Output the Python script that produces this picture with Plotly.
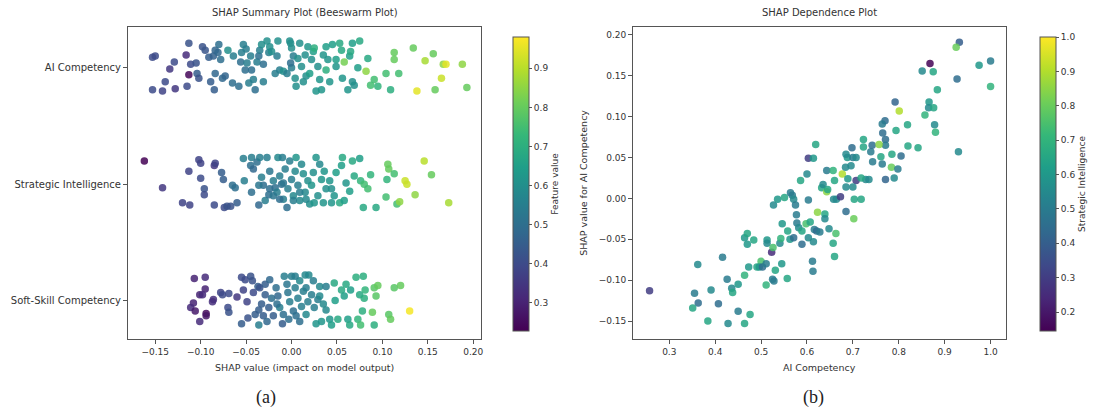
import plotly.graph_objects as go

# ---------------- data: beeswarm (panel a) ----------------
features = ["AI Competency", "Strategic Intelligence", "Soft-Skill Competency"]

ai_shap = [-0.153, -0.150, -0.153, -0.142, -0.139, -0.128, -0.134, -0.129, -0.116, -0.113, -0.115, -0.113,
           -0.111, -0.105, -0.104, -0.102, -0.098, -0.095, -0.091, -0.089, -0.086, -0.085, -0.084, -0.084,
           -0.080, -0.081, -0.078, -0.076, -0.073, -0.070, -0.065, -0.064, -0.058, -0.056, -0.055, -0.053,
           -0.051, -0.050, -0.049, -0.047, -0.045, -0.044, -0.042, -0.040, -0.038, -0.036, -0.035, -0.033,
           -0.031, -0.031, -0.027, -0.025, -0.024, -0.022, -0.018, -0.016, -0.015, -0.013, -0.009, -0.005,
           -0.002, -0.001, 0.000, 0.000, -0.001, 0.002, 0.004, 0.005, 0.007, 0.009, 0.011, 0.013,
           0.015, 0.016, 0.018, 0.020, 0.022, 0.024, 0.025, 0.027, 0.029, 0.031, 0.033, 0.035,
           0.038, 0.038, 0.040, 0.042, 0.045, 0.049, 0.049, 0.053, 0.055, 0.056, 0.058, 0.062,
           0.064, 0.065, 0.067, 0.067, 0.069, 0.073, 0.075, 0.082, 0.084, 0.087, 0.091, 0.095,
           0.104, 0.109, 0.113, 0.113, 0.118, 0.134, 0.138, 0.147, 0.156, 0.158, 0.165, 0.167,
           0.170, 0.188, 0.193]
ai_jitter = [0.09, 0.10, -0.19, -0.20, -0.12, -0.18, -0.01, 0.05, 0.11, -0.06, -0.16, 0.21,
             0.03, 0.04, -0.05, -0.09, 0.18, 0.15, 0.09, -0.12, 0.10, -0.19, -0.05, 0.15,
             0.20, 0.13, 0.07, -0.09, -0.07, 0.15, -0.13, 0.10, -0.16, 0.05, 0.13, 0.20,
             -0.02, 0.16, 0.04, -0.13, 0.10, -0.02, -0.10, -0.19, 0.05, 0.10, 0.15, 0.20,
             -0.12, 0.03, 0.23, 0.13, 0.18, 0.14, -0.05, 0.10, 0.23, -0.02, -0.03, -0.05,
             0.23, 0.21, 0.17, 0.00, 0.04, 0.10, -0.09, -0.16, 0.08, 0.21, 0.01, -0.12,
             0.11, -0.07, 0.18, -0.05, 0.07, 0.14, 0.17, -0.20, 0.01, -0.10, -0.19, 0.11,
             0.18, -0.02, 0.07, -0.12, 0.20, 0.07, 0.01, 0.21, 0.15, -0.09, 0.05, -0.19,
             0.10, 0.14, 0.21, -0.12, -0.15, 0.00, 0.23, -0.03, 0.08, -0.15, -0.10, -0.16,
             -0.05, -0.19, 0.13, 0.07, -0.05, 0.17, -0.20, 0.06, 0.12, -0.19, -0.09, 0.03,
             0.03, 0.03, -0.17]
ai_value = [0.40, 0.40, 0.40, 0.38, 0.40, 0.35, 0.35, 0.40, 0.32, 0.24, 0.40, 0.42,
            0.40, 0.42, 0.45, 0.42, 0.42, 0.43, 0.45, 0.45, 0.46, 0.45, 0.48, 0.47,
            0.50, 0.48, 0.50, 0.48, 0.47, 0.60, 0.50, 0.55, 0.50, 0.50, 0.55, 0.55,
            0.50, 0.55, 0.55, 0.55, 0.55, 0.50, 0.55, 0.50, 0.55, 0.50, 0.55, 0.60,
            0.55, 0.50, 0.60, 0.55, 0.60, 0.60, 0.55, 0.55, 0.60, 0.55, 0.60, 0.55,
            0.60, 0.60, 0.60, 0.55, 0.50, 0.55, 0.60, 0.60, 0.60, 0.60, 0.60, 0.60,
            0.60, 0.60, 0.62, 0.65, 0.60, 0.65, 0.70, 0.62, 0.60, 0.62, 0.62, 0.62,
            0.65, 0.70, 0.62, 0.62, 0.65, 0.65, 0.62, 0.68, 0.68, 0.62, 0.82, 0.62,
            0.65, 0.68, 0.65, 0.60, 0.60, 0.65, 0.68, 0.85, 0.68, 0.75, 0.75, 0.72,
            0.75, 0.70, 0.80, 0.80, 0.75, 0.80, 0.95, 0.88, 0.80, 0.80, 0.92, 0.85,
            0.95, 0.85, 0.80]

si_shap = [-0.162, -0.142, -0.120, -0.112, -0.113, -0.102, -0.100, -0.100, -0.096, -0.096, -0.085, -0.084,
           -0.085, -0.077, -0.075, -0.074, -0.071, -0.067, -0.065, -0.062, -0.060, -0.053, -0.052, -0.045,
           -0.044, -0.044, -0.042, -0.038, -0.036, -0.035, -0.033, -0.031, -0.029, -0.027, -0.025, -0.024,
           -0.020, -0.018, -0.016, -0.015, -0.013, -0.011, -0.010, -0.009, -0.007, -0.005, -0.004, -0.002,
           0.000, 0.002, 0.004, 0.005, 0.007, 0.009, 0.011, 0.013, 0.015, 0.018, 0.020, 0.022,
           0.024, 0.027, 0.029, 0.031, 0.033, 0.035, 0.036, 0.038, 0.042, 0.044, 0.047, 0.049,
           0.053, 0.055, 0.056, 0.058, 0.060, 0.064, 0.067, 0.069, 0.075, 0.076, 0.079, 0.080,
           0.084, 0.087, 0.093, 0.104, 0.105, 0.106, 0.107, 0.113, 0.116, 0.119, 0.125, 0.127,
           0.136, 0.146, 0.154, 0.173, -0.020, -0.013, 0.002, 0.009, 0.016, -0.009, -0.024, -0.036,
           0.044, 0.025]
si_jitter = [0.20, -0.03, -0.16, -0.18, 0.11, 0.21, 0.18, 0.05, -0.04, -0.09, 0.16, 0.18,
             -0.18, 0.10, 0.04, -0.20, -0.19, -0.19, -0.01, -0.03, -0.16, 0.22, 0.03, 0.16,
             0.23, -0.07, 0.13, 0.19, -0.18, 0.23, 0.06, -0.01, -0.14, 0.23, -0.09, 0.11,
             0.03, -0.03, -0.07, 0.23, 0.07, 0.00, 0.23, -0.13, 0.13, -0.20, -0.04, 0.20,
             0.04, -0.10, 0.11, 0.23, -0.01, -0.14, 0.17, 0.09, -0.07, 0.03, -0.17, -0.01,
             0.10, 0.23, -0.10, 0.17, 0.04, -0.16, 0.11, -0.04, 0.03, -0.16, -0.10, 0.10,
             -0.16, 0.16, 0.23, -0.14, 0.01, -0.06, 0.20, 0.07, 0.22, 0.03, -0.20, 0.00,
             -0.04, 0.08, -0.20, -0.11, 0.04, 0.17, 0.13, 0.09, -0.17, -0.15, 0.03, 0.00,
             -0.09, 0.20, 0.08, -0.16, -0.10, -0.13, -0.14, -0.07, -0.13, 0.01, -0.04, -0.01,
             -0.04, -0.16]
si_value = [0.23, 0.35, 0.38, 0.38, 0.38, 0.38, 0.38, 0.40, 0.42, 0.40, 0.35, 0.38,
            0.40, 0.45, 0.45, 0.40, 0.42, 0.42, 0.50, 0.50, 0.45, 0.55, 0.55, 0.50,
            0.55, 0.50, 0.48, 0.50, 0.48, 0.55, 0.55, 0.50, 0.55, 0.55, 0.50, 0.52,
            0.55, 0.50, 0.55, 0.58, 0.55, 0.50, 0.55, 0.55, 0.55, 0.50, 0.55, 0.55,
            0.55, 0.58, 0.58, 0.62, 0.55, 0.58, 0.58, 0.60, 0.58, 0.60, 0.60, 0.62,
            0.60, 0.62, 0.60, 0.58, 0.62, 0.62, 0.62, 0.60, 0.62, 0.62, 0.62, 0.65,
            0.68, 0.65, 0.68, 0.65, 0.62, 0.65, 0.68, 0.68, 0.65, 0.72, 0.68, 0.75,
            0.75, 0.72, 0.68, 0.75, 0.72, 0.80, 0.80, 0.75, 0.75, 0.85, 0.92, 0.92,
            0.85, 0.90, 0.80, 0.88, 0.52, 0.50, 0.55, 0.55, 0.58, 0.52, 0.50, 0.52,
            0.60, 0.62]

ss_shap = [-0.107, -0.095, -0.095, -0.101, -0.098, -0.108, -0.111, -0.106, -0.094, -0.094, -0.101, -0.087,
           -0.086, -0.078, -0.076, -0.069, -0.070, -0.069, -0.060, -0.055, -0.053, -0.051, -0.049, -0.048,
           -0.055, -0.045, -0.043, -0.042, -0.040, -0.037, -0.036, -0.035, -0.033, -0.031, -0.029, -0.027,
           -0.025, -0.024, -0.022, -0.020, -0.017, -0.015, -0.013, -0.010, -0.008, -0.005, -0.004, -0.003,
           -0.002, 0.000, 0.002, 0.004, 0.005, 0.007, 0.009, 0.011, 0.013, 0.015, 0.016, 0.018,
           0.019, 0.022, 0.024, 0.025, 0.027, 0.029, 0.031, 0.033, 0.035, 0.038, 0.038, 0.042,
           0.044, 0.047, 0.048, 0.051, 0.055, 0.058, 0.060, 0.062, 0.064, 0.065, 0.071, 0.073,
           0.075, 0.076, 0.079, 0.078, 0.080, 0.081, 0.091, 0.089, 0.091, 0.093, 0.095, 0.107,
           0.109, 0.113, 0.120, 0.130, -0.036, -0.016, -0.009, 0.009, 0.016, 0.004, -0.029, 0.031]
ss_jitter = [0.19, 0.20, 0.10, 0.05, 0.05, -0.02, -0.06, -0.09, -0.11, -0.13, -0.18, -0.01,
             0.01, 0.07, 0.05, 0.06, -0.06, -0.10, 0.03, 0.20, 0.09, 0.18, -0.01, -0.15,
             -0.20, 0.21, 0.17, 0.07, -0.12, 0.12, -0.21, 0.11, -0.03, -0.13, 0.14, -0.18,
             -0.06, 0.18, 0.02, -0.13, 0.11, 0.04, -0.06, -0.20, 0.21, 0.14, 0.07, -0.16,
             -0.01, 0.21, -0.09, 0.11, -0.13, 0.02, 0.17, -0.05, 0.08, 0.22, -0.12, -0.01,
             0.22, 0.05, 0.17, -0.06, -0.20, 0.01, 0.12, -0.18, -0.03, 0.12, -0.08, -0.16,
             -0.21, 0.15, 0.00, -0.16, 0.09, 0.04, 0.14, -0.16, -0.21, 0.09, 0.20, -0.16,
             0.05, -0.21, 0.21, -0.09, 0.02, 0.09, -0.21, -0.10, 0.11, 0.04, 0.13, -0.12,
             -0.16, 0.11, 0.13, -0.09, -0.08, -0.03, -0.12, -0.18, 0.11, 0.21, 0.05, 0.04]
ss_value = [0.30, 0.32, 0.30, 0.30, 0.32, 0.30, 0.32, 0.28, 0.25, 0.27, 0.32, 0.33,
            0.33, 0.38, 0.40, 0.40, 0.40, 0.42, 0.35, 0.40, 0.38, 0.40, 0.38, 0.42,
            0.45, 0.42, 0.42, 0.40, 0.45, 0.45, 0.55, 0.42, 0.45, 0.45, 0.45, 0.48,
            0.45, 0.48, 0.50, 0.45, 0.50, 0.48, 0.55, 0.45, 0.55, 0.52, 0.52, 0.50,
            0.55, 0.55, 0.50, 0.55, 0.50, 0.55, 0.58, 0.55, 0.55, 0.58, 0.58, 0.55,
            0.58, 0.55, 0.55, 0.55, 0.62, 0.55, 0.58, 0.62, 0.58, 0.55, 0.58, 0.62,
            0.65, 0.68, 0.65, 0.68, 0.68, 0.65, 0.68, 0.65, 0.68, 0.65, 0.70, 0.72,
            0.68, 0.75, 0.70, 0.70, 0.70, 0.72, 0.70, 0.80, 0.78, 0.78, 0.80, 0.78,
            0.80, 0.78, 0.80, 0.97, 0.45, 0.50, 0.50, 0.50, 0.55, 0.55, 0.45, 0.58]

# ---------------- data: dependence (panel b) ----------------
dep_ai = [0.257, 0.362, 0.416, 0.355, 0.363, 0.351, 0.391, 0.407, 0.384, 0.426, 0.436, 0.438,
          0.450, 0.450, 0.428, 0.464, 0.476, 0.464, 0.473, 0.464, 0.470, 0.470, 0.484, 0.491,
          0.500, 0.496, 0.503, 0.511, 0.511, 0.513, 0.513, 0.523, 0.526, 0.527, 0.525, 0.528,
          0.531, 0.536, 0.541, 0.543, 0.545, 0.546, 0.551, 0.557, 0.558, 0.563, 0.564, 0.568,
          0.571, 0.575, 0.577, 0.578, 0.582, 0.571, 0.589, 0.586, 0.589, 0.598, 0.600, 0.603,
          0.603, 0.607, 0.612, 0.613, 0.614, 0.616, 0.621, 0.628, 0.623, 0.632, 0.635, 0.639,
          0.639, 0.643, 0.645, 0.648, 0.657, 0.660, 0.663, 0.658, 0.664, 0.673, 0.685, 0.702,
          0.703, 0.718, 0.677, 0.689, 0.707, 0.728, 0.735, 0.660, 0.685, 0.700, 0.718,
          0.619, 0.603, 0.614, 0.643, 0.657, 0.684, 0.688, 0.685, 0.698, 0.700, 0.707, 0.696,
          0.723, 0.723, 0.739, 0.742, 0.743,
          0.792, 0.801, 0.770, 0.764, 0.765, 0.771, 0.771, 0.794, 0.819, 0.820, 0.757, 0.761,
          0.785, 0.805, 0.764, 0.784, 0.798, 0.771, 0.790,
          0.932, 0.925, 0.868, 0.851, 0.875, 1.000, 0.975, 0.927, 1.000, 0.884, 0.866, 0.865,
          0.876, 0.857, 0.878, 0.880, 0.842, 0.930]
dep_shap = [-0.113, -0.081, -0.072, -0.116, -0.128, -0.134, -0.112, -0.129, -0.150, -0.099, -0.110, -0.115,
            -0.105, -0.138, -0.153, -0.153, -0.142, -0.094, -0.084, -0.048, -0.043, -0.056, -0.051, -0.084,
            -0.077, -0.084, -0.084, -0.080, -0.106, -0.051, -0.055, -0.066, -0.060, -0.008, -0.099, -0.101,
            -0.088, -0.001, -0.055, -0.049, -0.080, -0.031, 0.001, -0.098, -0.040, -0.050, 0.007, 0.004,
            -0.001, -0.008, -0.020, -0.030, -0.036, -0.048, -0.040, 0.022, -0.056, -0.031, 0.030, -0.002,
            -0.048, -0.029, -0.077, -0.089, -0.053, -0.038, -0.040, -0.041, -0.017, 0.013, 0.017, -0.019,
            -0.025, 0.008, 0.011, -0.037, -0.055, -0.071, -0.043, -0.001, -0.001, 0.002, -0.016, -0.025,
            -0.001, -0.001, 0.030, 0.024, 0.022, 0.023, 0.023, 0.022, 0.014, 0.014, 0.025,
            0.066, 0.049, 0.049, 0.034, 0.034, 0.038, 0.050, 0.054, 0.062, 0.050, 0.050, 0.040,
            0.072, 0.063, 0.057, 0.065, 0.045,
            0.118, 0.107, 0.095, 0.091, 0.080, 0.072, 0.065, 0.083, 0.090, 0.064, 0.066, 0.051,
            0.054, 0.052, 0.042, 0.038, 0.036, 0.023, 0.025,
            0.191, 0.185, 0.165, 0.156, 0.155, 0.168, 0.163, 0.146, 0.137, 0.133, 0.118, 0.111,
            0.111, 0.102, 0.090, 0.081, 0.062, 0.057]
dep_si = [0.30, 0.55, 0.50, 0.50, 0.45, 0.65, 0.55, 0.45, 0.65, 0.50, 0.55, 0.65,
          0.60, 0.50, 0.55, 0.65, 0.65, 0.70, 0.60, 0.60, 0.65, 0.60, 0.65, 0.65,
          0.75, 0.60, 0.45, 0.50, 0.70, 0.60, 0.55, 0.25, 0.75, 0.55, 0.50, 0.50,
          0.65, 0.60, 0.55, 0.70, 0.60, 0.60, 0.65, 0.65, 0.65, 0.60, 0.50, 0.50,
          0.55, 0.50, 0.50, 0.50, 0.55, 0.45, 0.65, 0.65, 0.45, 0.75, 0.55, 0.50,
          0.55, 0.65, 0.50, 0.50, 0.55, 0.50, 0.45, 0.50, 0.85, 0.65, 0.55, 0.65,
          0.55, 0.85, 0.65, 0.55, 0.65, 0.65, 0.75, 0.55, 0.55, 0.30, 0.45, 0.80,
          0.65, 0.65, 0.90, 0.60, 0.30, 0.55, 0.55, 0.65, 0.55, 0.55, 0.65,
          0.65, 0.30, 0.60, 0.50, 0.70, 0.55, 0.60, 0.55, 0.45, 0.50, 0.55, 0.55,
          0.65, 0.65, 0.50, 0.45, 0.50,
          0.42, 0.90, 0.45, 0.50, 0.45, 0.45, 0.50, 0.65, 0.65, 0.65, 0.85, 0.65,
          0.65, 0.45, 0.50, 0.80, 0.50, 0.42, 0.55,
          0.40, 0.80, 0.15, 0.55, 0.65, 0.50, 0.60, 0.45, 0.70, 0.65, 0.60, 0.55,
          0.65, 0.70, 0.55, 0.70, 0.65, 0.55]

# ---------------- tick labels ----------------
a_xticks = [-0.15, -0.10, -0.05, 0.00, 0.05, 0.10, 0.15, 0.20]
a_xticktext = ["\u22120.15", "\u22120.10", "\u22120.05", "0.00", "0.05", "0.10", "0.15", "0.20"]
b_xticks = [0.3, 0.4, 0.5, 0.6, 0.7, 0.8, 0.9, 1.0]
b_xticktext = ["0.3", "0.4", "0.5", "0.6", "0.7", "0.8", "0.9", "1.0"]
b_yticks = [-0.15, -0.10, -0.05, 0.00, 0.05, 0.10, 0.15, 0.20]
b_yticktext = ["\u22120.15", "\u22120.10", "\u22120.05", "0.00", "0.05", "0.10", "0.15", "0.20"]
cb_a_ticks = [0.3, 0.4, 0.5, 0.6, 0.7, 0.8, 0.9]
cb_b_ticks = [0.2, 0.3, 0.4, 0.5, 0.6, 0.7, 0.8, 0.9, 1.0]

# ---------------- figure ----------------
W, H = 1098, 410
FONT = "DejaVu Sans"
TXT = "#333333"
LINE = "#555555"

def px_x(p):
    return p / W

def px_y(p):
    return 1 - p / H

fig = go.Figure()

rows = [(ai_shap, ai_jitter, ai_value), (si_shap, si_jitter, si_value), (ss_shap, ss_jitter, ss_value)]
n = len(features)
for i, (sv, jit, fv) in enumerate(rows):
    base = n - 1 - i
    fig.add_trace(go.Scatter(
        x=sv, y=[base + j for j in jit], mode="markers",
        marker=dict(color=fv, coloraxis="coloraxis", size=7.5, opacity=0.85, line=dict(width=0)),
        xaxis="x", yaxis="y", showlegend=False, hoverinfo="skip"))

fig.add_trace(go.Scatter(
    x=dep_ai, y=dep_shap, mode="markers",
    marker=dict(color=dep_si, coloraxis="coloraxis2", size=7.5, opacity=0.85, line=dict(width=0)),
    xaxis="x2", yaxis="y2", showlegend=False, hoverinfo="skip"))

ydom = [px_y(339), px_y(27)]
axis_common = dict(showline=True, linecolor=LINE, linewidth=1, mirror=True, ticks="outside",
                   ticklen=4, tickcolor=LINE, showgrid=False, zeroline=False,
                   tickfont=dict(family=FONT, size=9, color=TXT))

def colorbar(x0, ticks, title):
    return dict(
        x=px_x(x0), xanchor="left", thickness=16, thicknessmode="pixels",
        len=(341 - 27) / H, lenmode="fraction", y=px_y(341), yanchor="bottom",
        outlinewidth=1, outlinecolor=LINE, ticks="outside", ticklen=3, tickcolor=LINE,
        tickvals=ticks, tickformat=".1f", tickfont=dict(family=FONT, size=9, color=TXT),
        title=dict(text=title, side="right", font=dict(family=FONT, size=9, color=TXT)))

fig.update_layout(
    width=W, height=H, margin=dict(l=0, r=0, t=0, b=0),
    paper_bgcolor="white", plot_bgcolor="white",
    xaxis=dict(domain=[px_x(130), px_x(489)], range=[-0.180, 0.209], tickvals=a_xticks,
               ticktext=a_xticktext, anchor="y", **axis_common),
    yaxis=dict(domain=ydom, range=[-0.33, 2.35], tickvals=list(range(n)),
               ticktext=features[::-1], anchor="x", **{**axis_common,
               "tickfont": dict(family=FONT, size=10, color=TXT)}),
    xaxis2=dict(domain=[px_x(643), px_x(1022)], range=[0.221, 1.034], tickvals=b_xticks,
                ticktext=b_xticktext, anchor="y2", **axis_common),
    yaxis2=dict(domain=ydom, range=[-0.172, 0.2097], tickvals=b_yticks,
                ticktext=b_yticktext, anchor="x2", **axis_common),
    coloraxis=dict(colorscale="Viridis", cmin=0.228, cmax=0.98,
                   colorbar=colorbar(511, cb_a_ticks, "Feature value")),
    coloraxis2=dict(colorscale="Viridis", cmin=0.145, cmax=1.0,
                    colorbar=colorbar(1046, cb_b_ticks, "Strategic Intelligence")),
)

ann = [
    dict(text="SHAP Summary Plot (Beeswarm Plot)", x=px_x(309.5), y=px_y(12), size=10),
    dict(text="SHAP Dependence Plot", x=px_x(832.5), y=px_y(12), size=10),
    dict(text="SHAP value (impact on model output)", x=px_x(309.5), y=px_y(367), size=9.5),
    dict(text="AI Competency", x=px_x(832.5), y=px_y(367), size=9.5),
]
for a in ann:
    fig.add_annotation(text=a["text"], x=a["x"], y=a["y"], xref="paper", yref="paper",
                       xanchor="center", yanchor="middle", showarrow=False,
                       font=dict(family=FONT, size=a["size"], color=TXT))
fig.add_annotation(text="SHAP value for AI Competency", x=px_x(593), y=px_y(183), xref="paper",
                   yref="paper", xanchor="center", yanchor="middle", showarrow=False,
                   textangle=-90, font=dict(family=FONT, size=9.5, color=TXT))
for lab, xc in [("(a)", 270), ("(b)", 826)]:
    fig.add_annotation(text=lab, x=px_x(xc), y=px_y(397), xref="paper", yref="paper",
                       xanchor="center", yanchor="middle", showarrow=False,
                       font=dict(family="Liberation Serif", size=18, color="#222222"))

fig.write_html("out.html", config={"displayModeBar": False},
               post_script="document.body.style.margin='0';document.body.style.overflow='hidden';")
